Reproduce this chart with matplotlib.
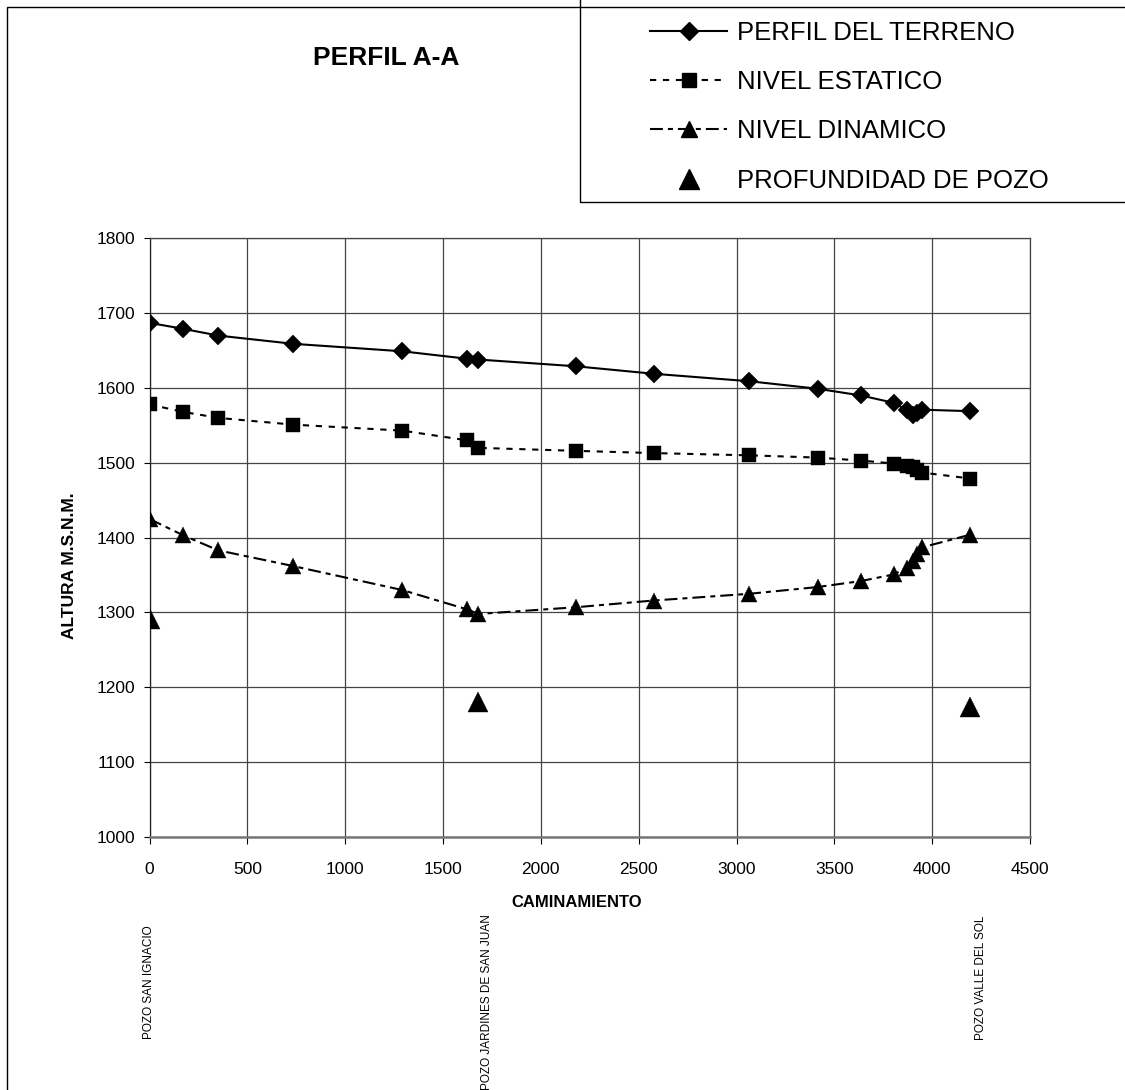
import matplotlib
matplotlib.use("Agg")
import matplotlib.pyplot as plt
from matplotlib.lines import Line2D
from matplotlib.patches import Rectangle
from matplotlib.transforms import blended_transform_factory

plt.rcParams['font.family'] = ['Liberation Sans', 'DejaVu Sans']

# ---- data ----
caminamiento = [0, 173, 352, 735, 1292, 1625, 1681, 2179, 2576, 3066, 3414,
                3636, 3806, 3870, 3900, 3925, 3948, 4195]
perfil_terreno = [1687, 1679, 1670, 1659, 1649, 1639, 1638, 1629, 1619, 1609, 1599,
                  1590, 1580, 1570, 1564, 1567, 1571, 1569]
nivel_estatico = [1578, 1568, 1560, 1551, 1543, 1530, 1520, 1516, 1513, 1510, 1507,
                  1503, 1499, 1496, 1494, 1490, 1487, 1479]
nivel_dinamico = [1425, 1403, 1383, 1362, 1330, 1304, 1298, 1307, 1316, 1325, 1334,
                  1342, 1351, 1360, 1369, 1378, 1387, 1404]
pozo_x = [0, 1681, 4195]
profundidad_pozo = [1291, 1180, 1174]
pozo_nombres = ["POZO SAN IGNACIO", "POZO JARDINES DE SAN JUAN", "POZO VALLE DEL SOL"]
x_ticks = [0, 500, 1000, 1500, 2000, 2500, 3000, 3500, 4000, 4500]
y_ticks = [1000, 1100, 1200, 1300, 1400, 1500, 1600, 1700, 1800]
series_labels = ["PERFIL DEL TERRENO", "NIVEL ESTATICO", "NIVEL DINAMICO",
                 "PROFUNDIDAD DE POZO"]

W, H = 1125, 1090
fig = plt.figure(figsize=(W / 100, H / 100), dpi=100)
ax = fig.add_axes([149.5 / W, 1 - 837 / H, 880.5 / W, 598.7 / H])

lw = 1.5
ms_d, ms_s, ms_t, ms_p = 8.8, 10.5, 11.5, 14.5
l1, = ax.plot(caminamiento, perfil_terreno, color='black', lw=lw, marker='D',
              ms=ms_d, mew=0.3, mec='black', mfc='black', zorder=5)
l2, = ax.plot(caminamiento, nivel_estatico, color='black', lw=lw, marker='s',
              ms=ms_s, mew=0.3, mfc='black', mec='black', dashes=(3.0, 3.2), zorder=5)
l3, = ax.plot(caminamiento, nivel_dinamico, color='black', lw=lw, marker='^',
              ms=ms_t, mew=0.3, mfc='black', mec='black',
              dashes=(6.2, 2.4, 2.4, 2.4), zorder=5)
l4, = ax.plot(pozo_x, profundidad_pozo, linestyle='none', marker='^', ms=ms_p,
              mfc='black', mec='black', mew=0.3, zorder=5)

ax.set_xlim(x_ticks[0], x_ticks[-1])
ax.set_ylim(y_ticks[0], y_ticks[-1])
ax.set_xticks(x_ticks)
ax.set_yticks(y_ticks)
ax.grid(True, color='#444444', lw=0.9)
ax.set_axisbelow(True)
for s in ax.spines.values():
    s.set_color('#444444')
    s.set_linewidth(0.9)
ax.spines['bottom'].set_color('#777777')
ax.spines['bottom'].set_linewidth(1.8)
ax.spines['left'].set_color('#222222')
ax.tick_params(axis='y', direction='out', length=4, width=0.8, pad=6, labelsize=12.5)
ax.tick_params(axis='x', direction='out', length=5, width=0.8, pad=13, labelsize=12.5)

ax.set_xlabel("CAMINAMIENTO", fontsize=12, fontweight='bold')
ax.xaxis.set_label_coords(0.4855, -0.110)
ax.xaxis.label.set_va('center')
ax.set_ylabel("ALTURA M.S.N.M.", fontsize=12.5, fontweight='bold')
ax.yaxis.set_label_coords(-0.0914, 0.454)
ax.yaxis.label.set_va('center')

fig.text(386 / W, 1 - 58 / H, "PERFIL A-A", fontsize=19, fontweight='bold',
         ha='center', va='center')

# well names below the axis
trans = blended_transform_factory(ax.transData, fig.transFigure)
name_x = [0, 1725, 4251]
name_top = [925, 914, 916]
for nx, nt, name in zip(name_x, name_top, pozo_nombres):
    fig.text(nx, 1 - nt / H, name, transform=trans, rotation=90, fontsize=8.5,
             ha='center', va='top')

# outer frame and legend box
fig.patches.append(Rectangle((7 / W, -0.05), 1.2, 1.05 - 7 / H,
                             transform=fig.transFigure, fill=False,
                             edgecolor='black', lw=1.0, clip_on=False))
fig.patches.append(Rectangle((580 / W, 1 - 202 / H), 1.0, 0.5,
                             transform=fig.transFigure, fill=False,
                             edgecolor='black', lw=1.0, clip_on=False))

handles = [
    Line2D([], [], color='black', lw=lw, marker='D', ms=ms_d, mfc='black', mec='black'),
    Line2D([], [], color='black', lw=lw, marker='s', ms=ms_s, mfc='black', mec='black',
           dashes=(3.0, 3.2)),
    Line2D([], [], color='black', lw=lw, marker='^', ms=ms_t, mfc='black', mec='black',
           dashes=(6.2, 2.4, 2.4, 2.4)),
    Line2D([], [], linestyle='none', marker='^', ms=ms_p, mfc='black', mec='black'),
]
fig.legend(handles, series_labels, loc='upper left',
           bbox_to_anchor=(650 / W, 1 - 21 / H), frameon=False, fontsize=18.5,
           handlelength=3.0, handletextpad=0.38, labelspacing=0.98,
           borderpad=0, borderaxespad=0, numpoints=1)

fig.savefig("out.png", dpi=100)
